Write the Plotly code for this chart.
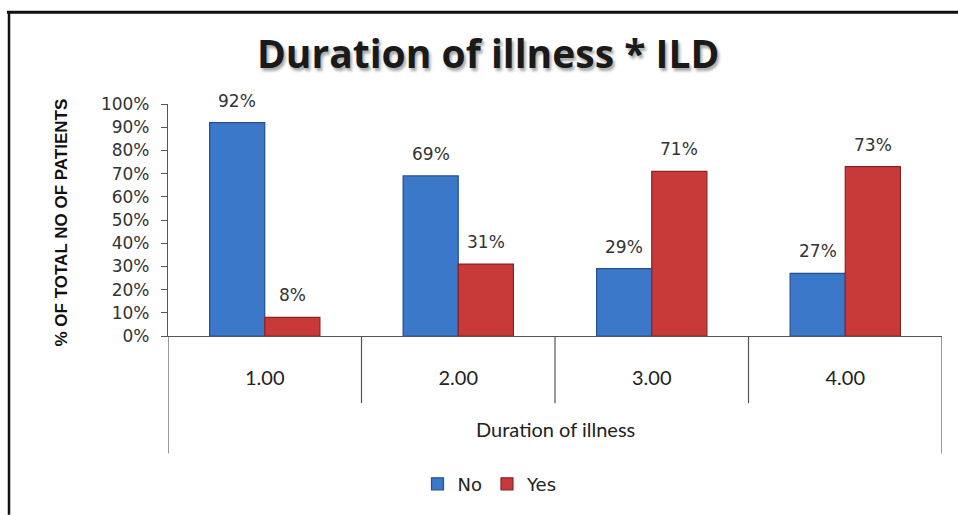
import plotly.graph_objects as go

# Data
categories = ["1.00", "2.00", "3.00", "4.00"]
no_pct = [92, 69, 29, 27]
yes_pct = [8, 31, 71, 73]
y_ticks = [0, 10, 20, 30, 40, 50, 60, 70, 80, 90, 100]

W, H = 958, 515
L, R, T, B = 168, 942, 104, 339  # plot area in pixels


def px_x(x):
    return (x - L) / (R - L)


def px_y(y):
    return (B - y) / (B - T)


fig = go.Figure()
fig.add_trace(go.Bar(
    name="No", x=categories, y=[v / 100 for v in no_pct],
    marker=dict(color="#3b78c9", line=dict(color="#24508c", width=1.2)),
))
fig.add_trace(go.Bar(
    name="Yes", x=categories, y=[v / 100 for v in yes_pct],
    marker=dict(color="#c83a3a", line=dict(color="#8a2424", width=1.2)),
))

label_font = dict(family="DejaVu Sans", size=17, color="#333333")
annotations = []
for i, c in enumerate(categories):
    for off, v in ((-0.1425, no_pct[i]), (0.1425, yes_pct[i])):
        annotations.append(dict(
            x=i + off, y=v / 100, xref="x", yref="y", text=f"{v}%",
            showarrow=False, yshift=22, font=label_font,
        ))

# Axis caption under the category labels
annotations.append(dict(
    x=0.5, y=px_y(433), xref="paper", yref="paper", yanchor="middle",
    text="Duration of illness", showarrow=False,
    font=dict(family="Lato", size=20, color="#222222"),
))
# Chart title
annotations.append(dict(
    x=px_x(488), y=px_y(52), xref="paper", yref="paper", yanchor="middle",
    text="<b>Duration of illness * ILD</b>", showarrow=False,
    font=dict(family="Open Sans", size=39, color="#1a1a1a",
              shadow="2px 3px 3px rgba(0,0,0,0.35)"),
))
# Vertical axis title
annotations.append(dict(
    x=px_x(61), y=px_y(224), xref="paper", yref="paper",
    xanchor="center", yanchor="middle",
    text="<b>% OF TOTAL NO OF PATIENTS</b>", textangle=-90, showarrow=False,
    font=dict(family="Liberation Sans", size=17, color="#111111"),
))

shapes = []
line_col = "#555555"
# Category separators below the axis
for k in range(5):
    bottom = 458 if k in (0, 4) else 407
    shapes.append(dict(
        type="line", xref="x", yref="paper", x0=k - 0.5, x1=k - 0.5,
        y0=0, y1=px_y(bottom), line=dict(color=line_col, width=1.2),
    ))
# Outer frame (top and left edges)
shapes.append(dict(type="line", xref="paper", yref="paper",
                   x0=px_x(7), x1=px_x(960), y0=px_y(11), y1=px_y(11),
                   line=dict(color="#111111", width=3)))
shapes.append(dict(type="line", xref="paper", yref="paper",
                   x0=px_x(9), x1=px_x(9), y0=px_y(10), y1=px_y(520),
                   line=dict(color="#111111", width=2.5)))

fig.update_layout(
    width=W, height=H,
    margin=dict(l=L, r=W - R, t=T, b=H - B),
    paper_bgcolor="white", plot_bgcolor="white",
    barmode="group", bargap=0.43, bargroupgap=0,
    showlegend=True,
    legend=dict(orientation="h", x=px_x(490), xanchor="center",
                y=px_y(489), yanchor="middle",
                font=dict(family="DejaVu Sans", size=18, color="#222222"),
                itemwidth=30, traceorder="normal"),
    annotations=annotations,
    shapes=shapes,
    xaxis=dict(
        showline=True, linecolor=line_col, linewidth=1.2,
        showgrid=False, ticks="", ticklabelstandoff=24,
        tickfont=dict(family="Lato", size=20, color="#222222"),
        range=[-0.5, 3.5], fixedrange=True,
    ),
    yaxis=dict(
        range=[0, 1], tickvals=[v / 100 for v in y_ticks],
        ticktext=[f"{v}%" for v in y_ticks],
        showline=True, linecolor=line_col, linewidth=1.2,
        showgrid=False, zeroline=False, ticks="outside", ticklen=6,
        tickcolor=line_col, ticklabelstandoff=8,
        tickfont=dict(family="DejaVu Sans", size=17, color="#333333"),
    ),
)

fig.write_html("out.html")
